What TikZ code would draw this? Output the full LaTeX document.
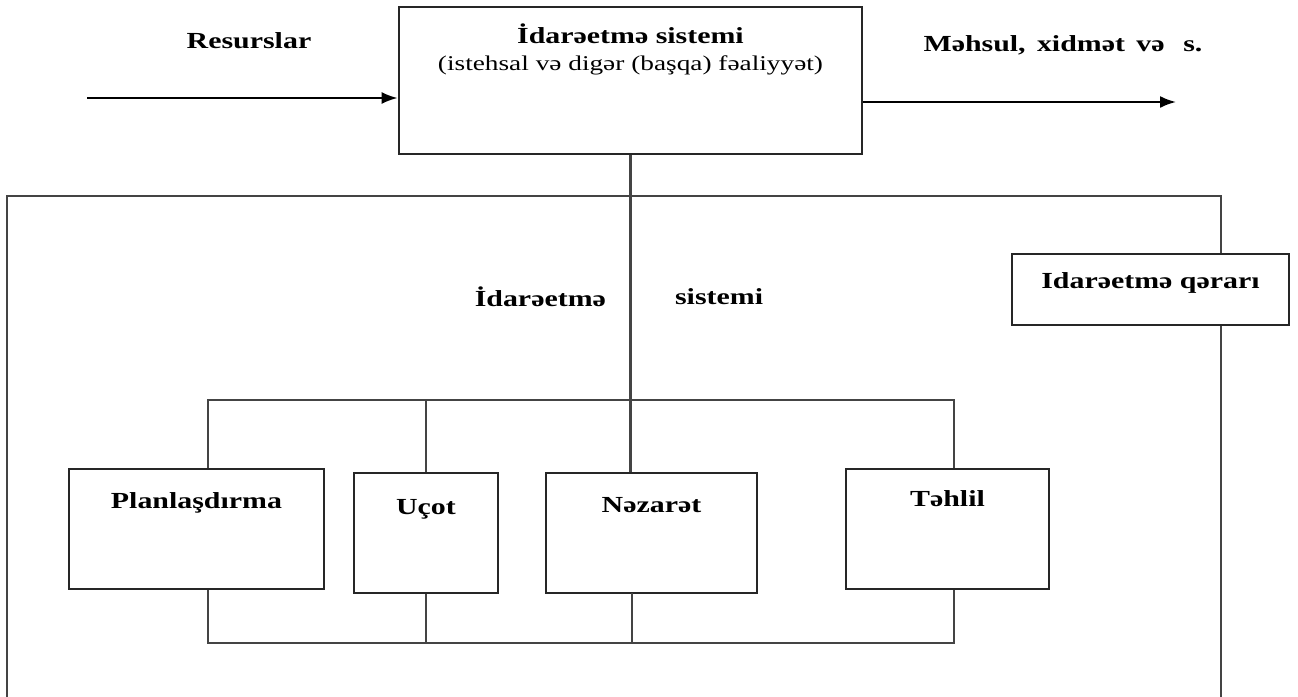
\documentclass[tikz,border=0pt]{standalone}
\usepackage{fontspec}
\setmainfont{Liberation Serif}[FakeStretch=1.3]
\usetikzlibrary{arrows.meta}
\definecolor{linegray}{HTML}{444444}

\begin{document}
\begin{tikzpicture}[
        x=0.5pt, y=-0.5pt,
        font=\fontsize{11.5pt}{13.5pt}\selectfont\bfseries,
        box/.style={draw=black!85, line width=1.4pt, rectangle, inner sep=0pt},
        boxtext/.style={anchor=north, inner sep=0pt, yshift=-12.5pt},
        line/.style={draw=linegray, line width=1.2pt},
        frame/.style={draw=linegray, line width=1.3pt},
        flow/.style={draw=black, line width=1pt, -{Latex[length=8pt,width=6pt]}}]
        \useasboundingbox (0,0) rectangle (1298,697);
        % NODES
        % control system
        \node[box, minimum width=231.5pt, minimum height=73.5pt,
              label={[boxtext, align=center, yshift=3.5pt]north:İdarəetmə sistemi\\{\fontsize{10.5pt}{13pt}\selectfont\mdseries (istehsal və digər (başqa) fəaliyyət)}}]
              (ctrl) at (630.5,80.5) {};
        % input and output texts
        \node[] (res) at (249,41) {Resurslar};
        \node[] (prod) at (1063,45) {Məhsul,\, xidmət\, və\ \, s.};
        % decision box
        \node[box, minimum width=138.5pt, minimum height=35.5pt,
              label={[boxtext, yshift=2.5pt]north:Idarəetmə qərarı}]
              (dec) at (1150.5,289.5) {};
        % functions
        \node[box, minimum width=127.5pt, minimum height=60pt,
              label={[boxtext]north:Planlaşdırma}] (plan) at (196.5,529) {};
        \node[box, minimum width=72pt, minimum height=60pt,
              label={[boxtext, yshift=-1pt]north:Uçot}] (uc) at (426,533) {};
        \node[box, minimum width=105.5pt, minimum height=60pt,
              label={[boxtext]north:Nəzarət}] (naz) at (651.5,533) {};
        \node[box, minimum width=101.5pt, minimum height=60pt,
              label={[boxtext, yshift=1pt]north:Təhlil}] (tah) at (947.5,529) {};
        % line labels
        \node[anchor=east] (lblL) at (613,297) {İdarəetmə};
        \node[anchor=west] (lblR) at (668,297) {sistemi};
        % helper points
        \coordinate (resIn) at (87,98);
        \coordinate (prodOut) at (1176,102);
        \coordinate (frameTL) at (7,196);
        \coordinate (frameTR) at (1221,196);
        \coordinate (frameBL) at (7,697);
        \coordinate (frameBR) at (1221,697);
        \coordinate (busL) at (208,400);
        \coordinate (busR) at (954,400);
        \coordinate (bbL) at (208,643);
        \coordinate (bbR) at (954,643);
        \coordinate (nazDrop) at (632,593);

        % ARROWS
        \draw[flow] (resIn) -- (resIn -| ctrl.west);
        \draw[flow] (prodOut -| ctrl.east) -- (prodOut);
        % frame
        \draw[frame] (frameBL) -- (frameTL) -- (frameTR) -- (frameTR |- dec.north);
        \draw[frame] (frameTR |- dec.south) -- (frameBR);
        % main line
        \draw[line] (ctrl.south) -- (ctrl.south |- naz.north);
        % upper bus
        \draw[line] (plan.north -| busL) -- (busL) -- (busR) -- (tah.north -| busR);
        \draw[line] (uc.north) -- (uc.north |- busL);
        % lower bus
        \draw[line] (plan.south -| bbL) -- (bbL) -- (bbR) -- (tah.south -| bbR);
        \draw[line] (uc.south) -- (uc.south |- bbL);
        \draw[line] (nazDrop) -- (nazDrop |- bbL);
\end{tikzpicture}
\end{document}
